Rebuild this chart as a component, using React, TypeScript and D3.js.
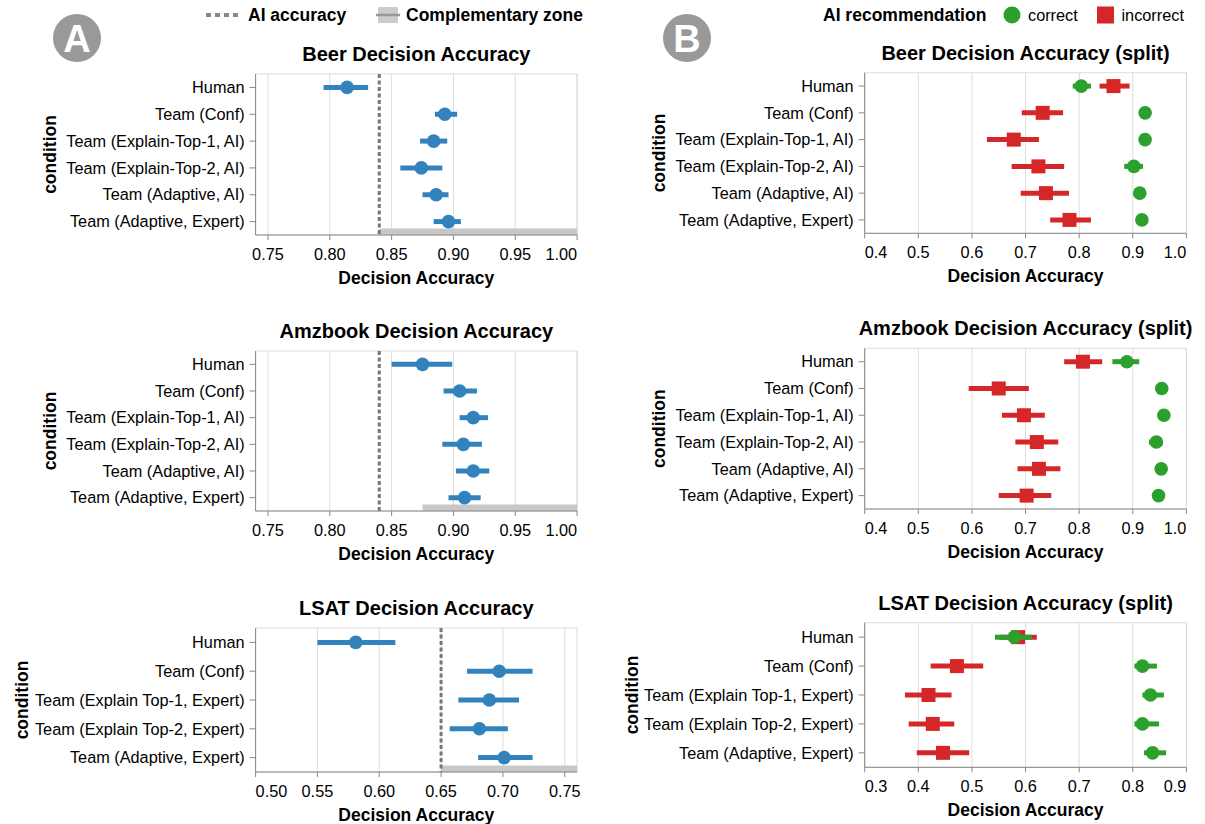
import * as d3 from 'd3';

const FONT = '"Liberation Sans", Arial, Helvetica, sans-serif';

// conditions
const conditionsAI = [
  'Human',
  'Team (Conf)',
  'Team (Explain-Top-1, AI)',
  'Team (Explain-Top-2, AI)',
  'Team (Adaptive, AI)',
  'Team (Adaptive, Expert)',
];
const conditionsLsat = [
  'Human',
  'Team (Conf)',
  'Team (Explain Top-1, Expert)',
  'Team (Explain Top-2, Expert)',
  'Team (Adaptive, Expert)',
];

// panel A: overall decision accuracy
const beerMean = [0.814, 0.893, 0.884, 0.874, 0.886, 0.896];
const beerLo = [0.795, 0.885, 0.873, 0.857, 0.875, 0.884];
const beerHi = [0.831, 0.903, 0.895, 0.891, 0.896, 0.906];

const amzMean = [0.875, 0.905, 0.916, 0.908, 0.916, 0.909];
const amzLo = [0.85, 0.892, 0.905, 0.891, 0.902, 0.896];
const amzHi = [0.899, 0.919, 0.928, 0.923, 0.929, 0.922];

const lsatMean = [0.581, 0.697, 0.689, 0.681, 0.701];
const lsatLo = [0.55, 0.671, 0.664, 0.657, 0.68];
const lsatHi = [0.613, 0.724, 0.713, 0.704, 0.724];

const aiAccuracy = { beer: 0.84, amz: 0.84, lsat: 0.65 };
const zoneStart = { beer: 0.84, amz: 0.875, lsat: 0.65 };

// panel B: split by AI recommendation correctness
const beerCorrect = [0.804, 0.923, 0.923, 0.902, 0.913, 0.917];
const beerCorrectLo = [0.788, 0.918, 0.918, 0.884, 0.908, 0.912];
const beerCorrectHi = [0.822, 0.928, 0.928, 0.919, 0.918, 0.922];
const beerIncorrect = [0.864, 0.732, 0.678, 0.724, 0.738, 0.782];
const beerIncorrectLo = [0.838, 0.693, 0.628, 0.674, 0.691, 0.746];
const beerIncorrectHi = [0.894, 0.77, 0.725, 0.772, 0.781, 0.822];

const amzCorrect = [0.889, 0.954, 0.958, 0.944, 0.953, 0.948];
const amzCorrectLo = [0.862, 0.949, 0.953, 0.93, 0.948, 0.943];
const amzCorrectHi = [0.912, 0.959, 0.963, 0.955, 0.958, 0.953];
const amzIncorrect = [0.807, 0.65, 0.697, 0.721, 0.725, 0.702];
const amzIncorrectLo = [0.772, 0.594, 0.656, 0.681, 0.685, 0.65];
const amzIncorrectHi = [0.843, 0.706, 0.736, 0.761, 0.765, 0.748];

const lsatCorrect = [0.579, 0.818, 0.833, 0.818, 0.837];
const lsatCorrectLo = [0.543, 0.803, 0.818, 0.803, 0.821];
const lsatCorrectHi = [0.612, 0.845, 0.858, 0.849, 0.862];
const lsatIncorrect = [0.586, 0.472, 0.419, 0.427, 0.446];
const lsatIncorrectLo = [0.552, 0.423, 0.375, 0.382, 0.397];
const lsatIncorrectHi = [0.621, 0.521, 0.462, 0.467, 0.495];

const ticksA = [0.75, 0.8, 0.85, 0.9, 0.95, 1.0];
const ticksLsatA = [0.5, 0.55, 0.6, 0.65, 0.7, 0.75];
const ticksB = [0.4, 0.5, 0.6, 0.7, 0.8, 0.9, 1.0];
const ticksLsatB = [0.3, 0.4, 0.5, 0.6, 0.7, 0.8, 0.9];

const BLUE = '#3182bd';
const GREEN = '#2ca02c';
const RED = '#d62728';

type Series = {
  mean: number[];
  lo: number[];
  hi: number[];
  color: string;
  shape: 'circle' | 'square';
};

interface PanelProps {
  title: string;
  conditions: string[];
  series: Series[];
  domain: [number, number];
  ticks: number[];
  fmt: string;
  x0: number;
  x1: number;
  y0: number;
  y1: number;
  condX: number;
  ai?: number;
  zone?: number;
}

function Panel(p: PanelProps) {
  const x = d3.scaleLinear().domain(p.domain).range([p.x0, p.x1]);
  const y = d3.scaleBand<string>().domain(p.conditions).range([p.y0, p.y1]);
  const yc = (c: string) => (y(c) ?? 0) + y.bandwidth() / 2;
  const f = d3.format(p.fmt);
  const eps = 1e-9;
  return (
    <g>
      {/* grid */}
      {p.ticks.map((t) => (
        <line key={'g' + t} x1={x(t)} x2={x(t)} y1={p.y0} y2={p.y1} stroke="#ddd" strokeWidth={1} />
      ))}
      <rect x={p.x0} y={p.y0} width={p.x1 - p.x0} height={p.y1 - p.y0} fill="none" stroke="#ddd" />
      {p.zone !== undefined && (
        <rect x={x(p.zone)} y={p.y1 - 6.5} width={p.x1 - x(p.zone)} height={6.5} fill="#c8c8c8" />
      )}
      {p.ai !== undefined && (
        <line
          x1={x(p.ai)}
          x2={x(p.ai)}
          y1={p.y0}
          y2={p.y1}
          stroke="#777"
          strokeWidth={3}
          strokeDasharray="4,2.5"
        />
      )}
      {/* axes */}
      <line x1={p.x0} x2={p.x1} y1={p.y1} y2={p.y1} stroke="#888" />
      <line x1={p.x0} x2={p.x0} y1={p.y0} y2={p.y1} stroke="#888" />
      {p.ticks.map((t) => {
        const anchor =
          Math.abs(t - p.domain[0]) < eps ? 'start' : Math.abs(t - p.domain[1]) < eps ? 'end' : 'middle';
        return (
          <g key={'t' + t}>
            <line x1={x(t)} x2={x(t)} y1={p.y1} y2={p.y1 + 5} stroke="#888" />
            <text x={x(t)} y={p.y1 + 19} dy="0.35em" textAnchor={anchor} fontSize={16.3} fontFamily={FONT}>
              {f(t)}
            </text>
          </g>
        );
      })}
      {p.conditions.map((c) => (
        <g key={'c' + c}>
          <line x1={p.x0 - 6} x2={p.x0} y1={yc(c)} y2={yc(c)} stroke="#888" />
          <text x={p.x0 - 11} y={yc(c)} dy="0.35em" textAnchor="end" fontSize={16.3} fontFamily={FONT}>
            {c}
          </text>
        </g>
      ))}
      {/* marks */}
      {p.series.map((s, si) => (
        <g key={'s' + si}>
          {p.conditions.map((c, i) => (
            <g key={c}>
              <line x1={x(s.lo[i])} x2={x(s.hi[i])} y1={yc(c)} y2={yc(c)} stroke={s.color} strokeWidth={5} />
              {s.shape === 'circle' ? (
                <circle cx={x(s.mean[i])} cy={yc(c)} r={6.8} fill={s.color} />
              ) : (
                <rect x={x(s.mean[i]) - 7} y={yc(c) - 7} width={14} height={14} fill={s.color} />
              )}
            </g>
          ))}
        </g>
      ))}
      {/* titles */}
      <text
        x={(p.x0 + p.x1) / 2}
        y={p.y0 - 20}
        dy="0.35em"
        textAnchor="middle"
        fontSize={20}
        fontWeight="bold"
        fontFamily={FONT}
      >
        {p.title}
      </text>
      <text
        x={(p.x0 + p.x1) / 2}
        y={p.y1 + 43}
        dy="0.35em"
        textAnchor="middle"
        fontSize={17.5}
        fontWeight="bold"
        fontFamily={FONT}
      >
        Decision Accuracy
      </text>
      <text
        transform={`translate(${p.condX},${(p.y0 + p.y1) / 2}) rotate(-90)`}
        dy="0.35em"
        textAnchor="middle"
        fontSize={17.5}
        fontWeight="bold"
        fontFamily={FONT}
      >
        condition
      </text>
    </g>
  );
}

const split = (
  c: number[],
  cl: number[],
  ch: number[],
  w: number[],
  wl: number[],
  wh: number[]
): Series[] => [
  { mean: w, lo: wl, hi: wh, color: RED, shape: 'square' },
  { mean: c, lo: cl, hi: ch, color: GREEN, shape: 'circle' },
];

export default function App() {
  const LX0 = 255.6;
  const LX1 = 577.1;
  const RX0 = 864.7;
  const RX1 = 1186.4;
  return (
    <svg width={1205} height={824} style={{ position: 'absolute', left: 0, top: 0, background: '#fff' }}>
      {/* badges */}
      <circle cx={77} cy={38} r={24} fill="#999" />
      <text x={77} y={38} dy="0.36em" textAnchor="middle" fill="#fff" fontSize={38} fontWeight="bold" fontFamily={FONT}>
        A
      </text>
      <circle cx={687} cy={38} r={24} fill="#999" />
      <text x={687} y={38} dy="0.36em" textAnchor="middle" fill="#fff" fontSize={38} fontWeight="bold" fontFamily={FONT}>
        B
      </text>

      {/* legend A */}
      <line x1={206} x2={240} y1={15} y2={15} stroke="#888" strokeWidth={4} strokeDasharray="5,4" />
      <text x={248} y={15} dy="0.35em" fontSize={17.5} fontWeight="bold" fontFamily={FONT}>
        AI accuracy
      </text>
      <rect x={378} y={7} width={20} height={16} fill="#ccc" />
      <line x1={376} x2={400} y1={15} y2={15} stroke="#999" strokeWidth={2.5} />
      <text x={406} y={15} dy="0.35em" fontSize={17.5} fontWeight="bold" fontFamily={FONT}>
        Complementary zone
      </text>

      {/* legend B */}
      <text x={823} y={15} dy="0.35em" fontSize={17.5} fontWeight="bold" fontFamily={FONT}>
        AI recommendation
      </text>
      <circle cx={1012} cy={15} r={8.5} fill={GREEN} />
      <text x={1028} y={15} dy="0.35em" fontSize={16.3} fontFamily={FONT}>
        correct
      </text>
      <rect x={1097} y={6.5} width={17} height={17} fill={RED} />
      <text x={1121.5} y={15} dy="0.35em" fontSize={16.3} fontFamily={FONT}>
        incorrect
      </text>

      <Panel
        title="Beer Decision Accuracy"
        conditions={conditionsAI}
        series={[{ mean: beerMean, lo: beerLo, hi: beerHi, color: BLUE, shape: 'circle' }]}
        domain={[0.74, 1.0]}
        ticks={ticksA}
        fmt=".2f"
        x0={LX0}
        x1={LX1}
        y0={74}
        y1={235}
        condX={50}
        ai={aiAccuracy.beer}
        zone={zoneStart.beer}
      />
      <Panel
        title="Amzbook Decision Accuracy"
        conditions={conditionsAI}
        series={[{ mean: amzMean, lo: amzLo, hi: amzHi, color: BLUE, shape: 'circle' }]}
        domain={[0.74, 1.0]}
        ticks={ticksA}
        fmt=".2f"
        x0={LX0}
        x1={LX1}
        y0={351}
        y1={511}
        condX={50}
        ai={aiAccuracy.amz}
        zone={zoneStart.amz}
      />
      <Panel
        title="LSAT Decision Accuracy"
        conditions={conditionsLsat}
        series={[{ mean: lsatMean, lo: lsatLo, hi: lsatHi, color: BLUE, shape: 'circle' }]}
        domain={[0.5, 0.76]}
        ticks={ticksLsatA}
        fmt=".2f"
        x0={LX0}
        x1={LX1}
        y0={628}
        y1={772}
        condX={22}
        ai={aiAccuracy.lsat}
        zone={zoneStart.lsat}
      />

      <Panel
        title="Beer Decision Accuracy (split)"
        conditions={conditionsAI}
        series={split(beerCorrect, beerCorrectLo, beerCorrectHi, beerIncorrect, beerIncorrectLo, beerIncorrectHi)}
        domain={[0.4, 1.0]}
        ticks={ticksB}
        fmt=".1f"
        x0={RX0}
        x1={RX1}
        y0={72.7}
        y1={233.3}
        condX={659}
      />
      <Panel
        title="Amzbook Decision Accuracy (split)"
        conditions={conditionsAI}
        series={split(amzCorrect, amzCorrectLo, amzCorrectHi, amzIncorrect, amzIncorrectLo, amzIncorrectHi)}
        domain={[0.4, 1.0]}
        ticks={ticksB}
        fmt=".1f"
        x0={RX0}
        x1={RX1}
        y0={348.3}
        y1={509}
        condX={659}
      />
      <Panel
        title="LSAT Decision Accuracy (split)"
        conditions={conditionsLsat}
        series={split(lsatCorrect, lsatCorrectLo, lsatCorrectHi, lsatIncorrect, lsatIncorrectLo, lsatIncorrectHi)}
        domain={[0.3, 0.9]}
        ticks={ticksLsatB}
        fmt=".1f"
        x0={RX0}
        x1={RX1}
        y0={622.7}
        y1={767.3}
        condX={632}
      />
    </svg>
  );
}
